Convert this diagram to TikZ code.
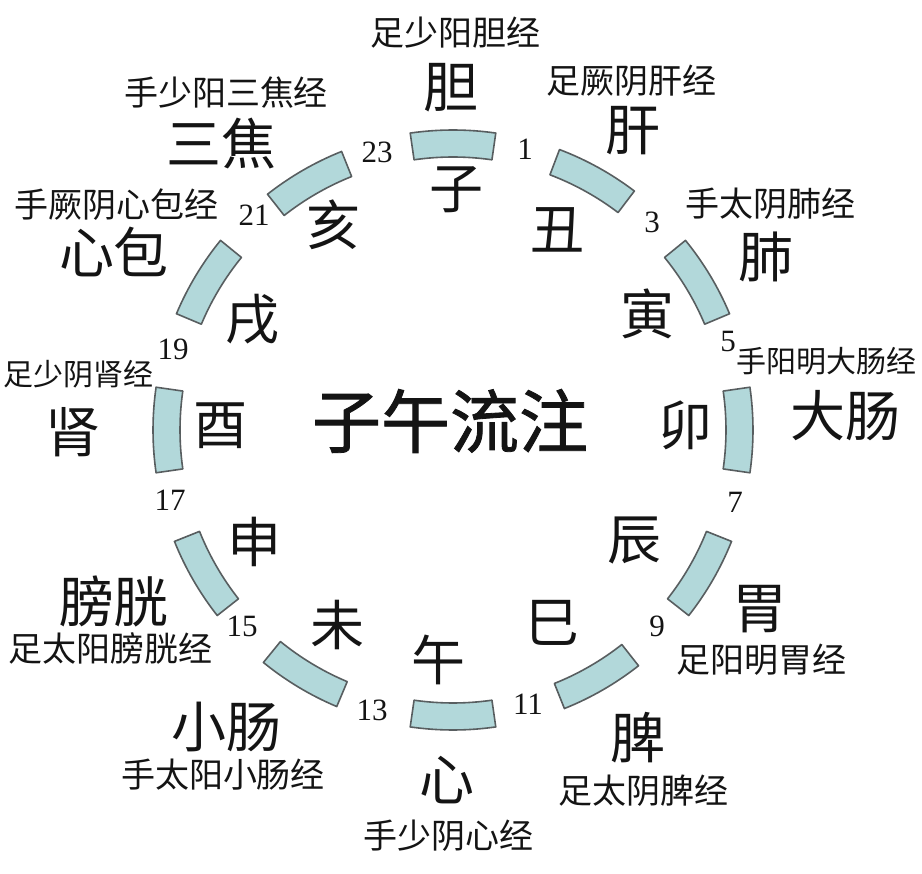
\documentclass[tikz,border=0pt]{standalone}
\usepackage{fontspec}
\setmainfont{Liberation Serif}
\newfontfamily\cjk{Noto Sans CJK SC}
\newfontfamily\cjkb[FakeBold=1.2]{Noto Sans CJK SC}
\definecolor{arcfill}{RGB}{178,216,218}
\definecolor{arcline}{RGB}{88,94,96}
\definecolor{ink}{RGB}{20,20,20}
\begin{document}
\begin{tikzpicture}[x=1pt,y=1pt,
  seg/.style={fill=arcfill,draw=arcline,line width=1.6pt,line join=round},
  organ/.style={font=\cjk\fontsize{55}{55}\selectfont,inner sep=0pt,text=ink},
  mer/.style={font=\cjk\fontsize{34}{34}\selectfont,inner sep=0pt,text=ink},
  mers/.style={font=\cjk\fontsize{30}{30}\selectfont,inner sep=0pt,text=ink},
  branch/.style={font=\cjk\fontsize{54}{54}\selectfont,inner sep=0pt,text=ink},
  num/.style={font=\fontsize{31}{31}\selectfont,inner sep=0pt,text=ink},
  titletext/.style={font=\cjkb\fontsize{69}{69}\selectfont,inner sep=0pt,text=ink}]
\fill[white] (0,0) rectangle (922,-874);
\useasboundingbox (0,0) rectangle (922,-874);
% ring segments
\begin{scope}[shift={(453,-430)}]
\foreach \a [evaluate=\a as \s using \a-8.2, evaluate=\a as \e using \a+8.2] in {90,61,31,0,-30,-60,-90,-121,-150,180,149,120}{
  \draw[seg] (\s:300pt) arc[start angle=\s, end angle=\e, radius=300pt]
    -- (\e:273pt) arc[start angle=\e, end angle=\s, radius=273pt] -- cycle;
}
\end{scope}
% centre title
\node[titletext] (title) at (450,-421) {子午流注};
% earthly branches
\node[branch] (zi)   at (456,-190) {子};
\node[branch] (chou) at (557,-230) {丑};
\node[branch] (yin)  at (647,-314) {寅};
\node[branch] (mao)  at (685,-425) {卯};
\node[branch] (chen) at (634,-541) {辰};
\node[branch] (si)   at (552,-623) {巳};
\node[branch] (wu)   at (438,-660) {午};
\node[branch] (wei)  at (337,-625) {未};
\node[branch] (shen) at (254,-542) {申};
\node[branch] (you)  at (220,-426) {酉};
\node[branch] (xu)   at (252,-319) {戌};
\node[branch] (hai)  at (333,-225) {亥};
% hour numbers
\node[num] (n23) at (377,-152) {23};
\node[num] (n1)  at (525,-149) {1};
\node[num] (n3)  at (652,-222) {3};
\node[num] (n5)  at (728,-342) {5};
\node[num] (n7)  at (735,-502) {7};
\node[num] (n9)  at (657,-626) {9};
\node[num] (n11) at (528,-704) {11};
\node[num] (n13) at (372,-710) {13};
\node[num] (n15) at (242,-626) {15};
\node[num] (n17) at (170,-500) {17};
\node[num] (n19) at (173,-349) {19};
\node[num] (n21) at (254,-215) {21};
% organs
\node[organ] (dan)   at (451,-88)  {胆};
\node[organ] (gan)   at (633,-131) {肝};
\node[organ] (fei)   at (766,-257) {肺};
\node[organ] (dach)  at (845,-416) {大肠};
\node[organ] (weio)  at (760,-609) {胃};
\node[organ] (pi)    at (638,-738) {脾};
\node[organ] (xin)   at (447,-780) {心};
\node[organ] (xiaoch) at (226,-727) {小肠};
\node[organ] (pang)  at (114,-601) {膀胱};
\node[organ] (shenz) at (73,-432)  {肾};
\node[organ] (xinb)  at (114,-252) {心包};
\node[organ] (sanj)  at (221,-144) {三焦};
% meridians
\node[mer]  (mdan)  at (455,-33)  {足少阳胆经};
\node[mer]  (mgan)  at (631,-81)  {足厥阴肝经};
\node[mer]  (mfei)  at (770,-204) {手太阴肺经};
\node[mers] (mdach) at (826,-361) {手阳明大肠经};
\node[mer]  (mwei)  at (761,-660) {足阳明胃经};
\node[mer]  (mpi)   at (643,-791) {足太阴脾经};
\node[mer]  (mxin)  at (448,-836) {手少阴心经};
\node[mer]  (mxch)  at (223,-775) {手太阳小肠经};
\node[mer]  (mpang) at (111,-649) {足太阳膀胱经};
\node[mers] (mshen) at (79,-374)  {足少阴肾经};
\node[mer]  (mxinb) at (117,-205) {手厥阴心包经};
\node[mer]  (msanj) at (226,-93)  {手少阳三焦经};
\end{tikzpicture}
\end{document}
